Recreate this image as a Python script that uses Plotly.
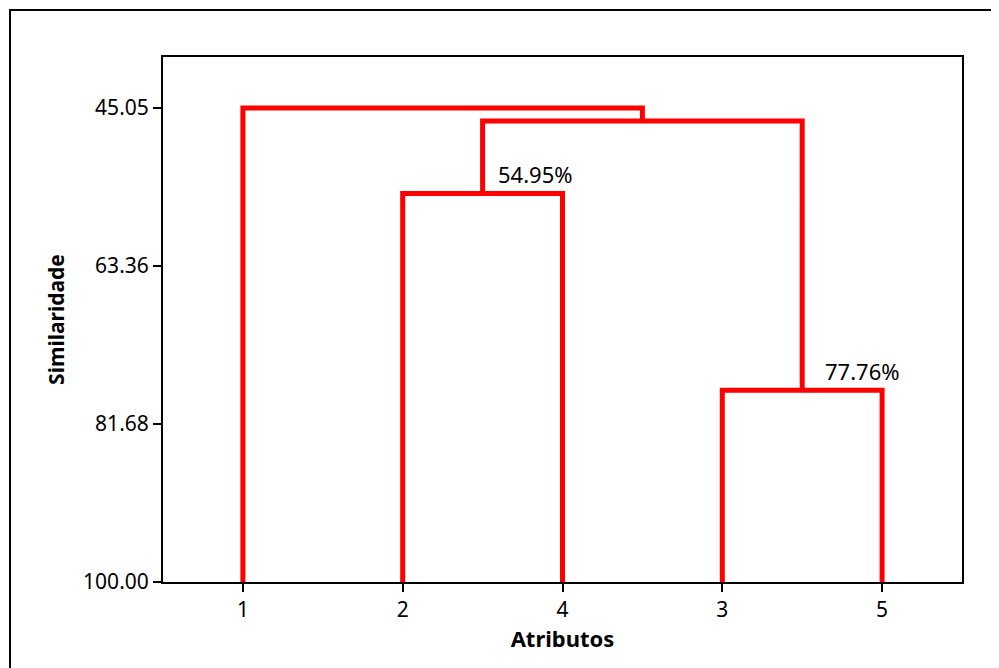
import plotly.graph_objects as go

# ---- data ----
leaf_labels = ["1", "2", "4", "3", "5"]          # order of leaves along x
# merges: (left node, right node, similarity level); nodes 0-4 are leaves, 5+ are clusters
merge_left = [1, 3, 5, 0]
merge_right = [2, 4, 6, 7]
merge_level = [54.95, 77.76, 46.56, 45.05]
label_merges = [0, 1]                             # merges that get a % label
y_ticks = [45.05, 63.36, 81.68, 100.00]
base_level = 100.0

# ---- build dendrogram geometry via node positions ----
node_x = {i: float(i) for i in range(len(leaf_labels))}
node_y = {i: base_level for i in range(len(leaf_labels))}
xs, ys = [], []
for k, (a, b, lv) in enumerate(zip(merge_left, merge_right, merge_level)):
    xa, xb = node_x[a], node_x[b]
    xs += [xa, xa, xb, xb, None]
    ys += [node_y[a], lv, lv, node_y[b], None]
    nid = len(leaf_labels) + k
    node_x[nid] = (xa + xb) / 2
    node_y[nid] = lv

FONT = "Noto Sans"
fig = go.Figure()
fig.add_trace(go.Scatter(x=xs, y=ys, mode="lines",
                         line=dict(color="#FF0000", width=5),
                         hoverinfo="skip", showlegend=False))

shifts = [(13, 2), (21, 2)]
for (m, (dx, dy)) in zip(label_merges, shifts):
    fig.add_annotation(x=node_x[len(leaf_labels) + m], y=merge_level[m],
                       text=f"{merge_level[m]:.2f}%", showarrow=False,
                       xanchor="left", yanchor="bottom", xshift=dx, yshift=dy,
                       font=dict(family=FONT, size=22, color="black"))

fig.update_xaxes(range=[-0.5, 4.5], tickmode="array",
                 tickvals=list(range(len(leaf_labels))), ticktext=leaf_labels,
                 showline=True, linecolor="black", linewidth=2, mirror=True,
                 ticks="outside", ticklen=8, tickwidth=1.5, tickcolor="black",
                 showgrid=False, zeroline=False,
                 tickfont=dict(family=FONT, size=21, color="black"),
                 title=dict(text="<b>Atributos</b>", standoff=3,
                            font=dict(family=FONT, size=22, color="black")))
fig.update_yaxes(range=[base_level, 39.14], tickmode="array",
                 tickvals=y_ticks, ticktext=[f"{v:.2f}" for v in y_ticks],
                 showline=True, linecolor="black", linewidth=2, mirror=True,
                 ticks="outside", ticklen=8, tickwidth=1.5, tickcolor="black",
                 showgrid=False, zeroline=False,
                 tickfont=dict(family=FONT, size=21, color="black"),
                 title=dict(text="<b>Similaridade</b>", standoff=13,
                            font=dict(family=FONT, size=21, color="black")))

# outer frame (page is offset by the 8px body margin)
L, T, W, H = 155, 49, 799, 525
fig.add_shape(type="rect", xref="paper", yref="paper",
              x0=(10 - 8 - L) / W, x1=1.1, y0=-0.3, y1=(T + H - (10 - 8)) / H,
              line=dict(color="black", width=2), layer="below")

fig.update_layout(width=991, height=660,
                  margin=dict(l=L, r=37, t=T, b=86),
                  paper_bgcolor="white", plot_bgcolor="white")
fig.write_html("out.html")
